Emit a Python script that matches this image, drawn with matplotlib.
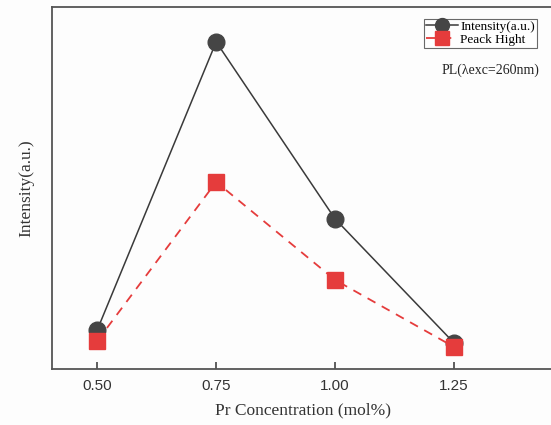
import matplotlib
matplotlib.use("Agg")
import matplotlib.pyplot as plt

concentration = [0.50, 0.75, 1.00, 1.25]
intensity = [39, 327, 150, 26]
peak_height = [28, 187, 89, 22]
xtick_labels = ["0.50", "0.75", "1.00", "1.25"]

fig = plt.figure(figsize=(5.51, 4.25), dpi=100)
fig.patch.set_facecolor("#fdfdfd")
ax = fig.add_axes([0.0944, 0.1318, 0.911, 0.852])
ax.set_facecolor("#fdfdfd")

ax.plot(concentration, intensity, color="#3a3a3a", lw=1.1, marker="o",
        markersize=12, markerfacecolor="#454545", markeredgecolor="#454545",
        label="Intensity(a.u.)", zorder=3)
ax.plot(concentration, peak_height, color="#e53c3c", lw=1.3, ls=(0, (5, 4)),
        marker="s", markersize=11, markerfacecolor="#e53c3c",
        markeredgecolor="#e53c3c", label="Peack Hight", zorder=4)

ax.set_xlim(0.405, 1.46)
ax.set_ylim(0, 362)
ax.set_xticks(concentration)
ax.set_xticklabels(xtick_labels, fontfamily="Liberation Sans", fontsize=11, color="#333333")
ax.set_yticks([])
ax.tick_params(axis="x", direction="in", length=5, width=1.2, color="#444444", pad=7)

for s in ax.spines.values():
    s.set_color("#555555")
    s.set_linewidth(1.3)

ax.set_xlabel("Pr Concentration (mol%)", fontfamily="Liberation Serif", fontsize=12.5,
              color="#333333", labelpad=7)
ax.set_ylabel("Intensity(a.u.)", fontfamily="Liberation Serif", fontsize=12.5,
              color="#333333", labelpad=13)

leg = ax.legend(loc="upper left", bbox_to_anchor=(0.741, 0.967),
                prop={"family": "Liberation Serif", "size": 9.5},
                frameon=True, fancybox=False, edgecolor="#444444", handlelength=2.4,
                borderpad=0.15, labelspacing=0.05, handletextpad=0.2, borderaxespad=0)
leg.get_frame().set_linewidth(0.8)
for h in leg.legend_handles:
    h.set_markersize(10)

ax.text(0.775, 0.826, "PL(λexc=260nm)", transform=ax.transAxes, fontfamily="Liberation Serif",
        fontsize=10, color="#222222", ha="left", va="center")

fig.savefig("out.png", dpi=100, facecolor=fig.get_facecolor())
